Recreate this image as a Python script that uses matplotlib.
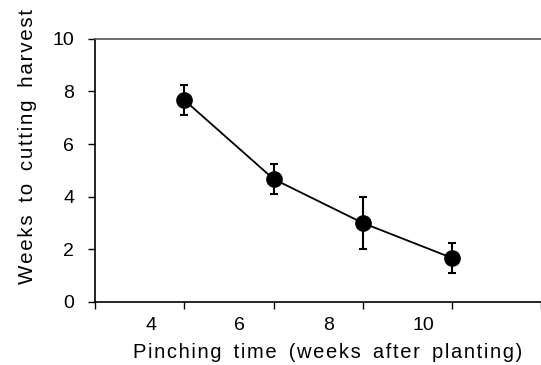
import matplotlib
matplotlib.use("Agg")
import matplotlib.pyplot as plt
from matplotlib.ticker import FixedLocator, FixedFormatter

# Data
pinch_labels = ["4", "6", "8", "10"]
weeks_to_harvest = [7.67, 4.67, 3.0, 1.67]
errors = [0.58, 0.58, 1.0, 0.58]
y_ticks = [0, 2, 4, 6, 8, 10]
x_title = "Pinching time (weeks after planting)"
y_title = "Weeks to cutting harvest"

x_pos = list(range(1, len(weeks_to_harvest) + 1))
label_offset = -0.44


def spaced(s, letter_gap=1, word_gap=2):
    g = "\u200a" * letter_gap
    w = "\u200a" * word_gap
    return (w + " " + w).join(g.join(word) for word in s.split(" "))


W, H = 541, 365
plt.rcParams['font.family'] = ['Liberation Sans', 'DejaVu Sans']
fig = plt.figure(figsize=(W / 100, H / 100), dpi=100)
ax = fig.add_axes([95 / W, 1 - 302 / H, 1 - 95 / W + 0.01, (302 - 38.7) / H])

ax.errorbar(x_pos, weeks_to_harvest, yerr=errors, color='black', lw=1.3,
            marker='o', markersize=11, elinewidth=1.5, capsize=3, capthick=1.5)

ax.set_xlim(0, (W - 95) / 90 + 0.1)
ax.set_ylim(0, 10)
ax.set_yticks(y_ticks)
ax.set_yticklabels([str(v) for v in y_ticks], fontsize=14)
ax.xaxis.set_major_locator(FixedLocator([0] + x_pos + [5]))
ax.xaxis.set_major_formatter(FixedFormatter([""] * (len(x_pos) + 2)))
ax.xaxis.set_minor_locator(FixedLocator([p + label_offset for p in x_pos]))
ax.xaxis.set_minor_formatter(FixedFormatter(pinch_labels))
ax.tick_params(axis='x', which='minor', length=0, pad=10.5, labelsize=14)
for lbl in ax.xaxis.get_minorticklabels():
    lbl.set_horizontalalignment('left')
ax.tick_params(axis='x', which='major', length=5, width=1, direction='out')
ax.tick_params(axis='y', length=5, width=1, direction='out', pad=10)

for s in ['left', 'bottom']:
    ax.spines[s].set_linewidth(1.2)
ax.spines['top'].set_color('#555555')
ax.spines['top'].set_linewidth(1.2)
ax.spines['right'].set_visible(False)

ax.set_ylabel(spaced(y_title), fontsize=14.8)
ax.yaxis.set_label_coords(37 / W, 1 - 146 / H, transform=fig.transFigure)
ax.set_xlabel(spaced(x_title), fontsize=14.5)
ax.xaxis.set_label_coords(327.5 / W, 1 - 343.5 / H, transform=fig.transFigure)

fig.savefig("out.png", dpi=100)
